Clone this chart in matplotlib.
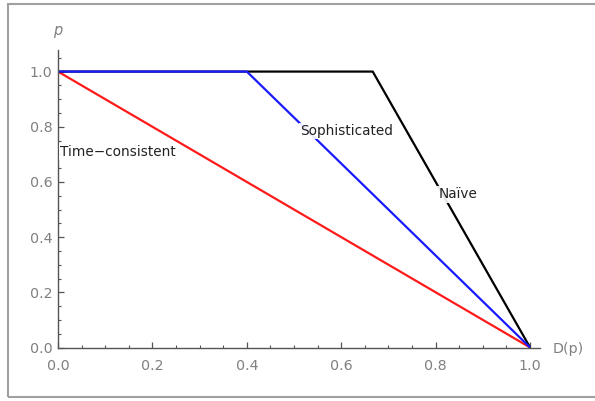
import matplotlib.pyplot as plt
from matplotlib.patches import Rectangle
from matplotlib.ticker import MultipleLocator

plt.rcParams['font.family'] = ['DejaVu Sans']

# curves: D(p) on x, p on y
tc_x = [0.0, 1.0]
tc_y = [1.0, 0.0]
soph_x = [0.0, 0.4, 1.0]
soph_y = [1.0, 1.0, 0.0]
naive_x = [0.0, 2 / 3, 1.0]
naive_y = [1.0, 1.0, 0.0]

labels = ["Time\u2212consistent", "Sophisticated", "Na\u00efve"]
label_pos = [(0.127, 0.71), (0.612, 0.785), (0.847, 0.555)]

fig = plt.figure(figsize=(5.95, 4.01), dpi=100)

# gray frame around the picture
fig.patches.append(Rectangle((8 / 595, 4 / 401), 600 / 595, 393 / 401,
                             transform=fig.transFigure, fill=False,
                             edgecolor='#a0a0a0', linewidth=1.5))

ax = fig.add_axes([58 / 595, 53.5 / 401, 482 / 595, 298 / 401])
ax.set_xlim(0, 1.021)
ax.set_ylim(0, 1.08)

ax.plot(tc_x, tc_y, color='#ff1a1a', lw=1.6, solid_capstyle='butt')
ax.plot(naive_x, naive_y, color='black', lw=1.6, solid_capstyle='butt')
ax.plot(soph_x, soph_y, color='#1a1aff', lw=1.6, solid_capstyle='butt')

for txt, (x, y) in zip(labels, label_pos):
    ax.text(x, y, txt, ha='center', va='center', fontsize=9.8, color='#222222',
            bbox=dict(facecolor='white', edgecolor='none', pad=1.0, alpha=0.9))

for side in ['top', 'right']:
    ax.spines[side].set_visible(False)
for side in ['left', 'bottom']:
    ax.spines[side].set_color('#555555')
    ax.spines[side].set_linewidth(1.0)

ax.xaxis.set_minor_locator(MultipleLocator(0.05))
ax.yaxis.set_minor_locator(MultipleLocator(0.05))
ax.set_xticks([0, 0.2, 0.4, 0.6, 0.8, 1.0])
ax.set_yticks([0, 0.2, 0.4, 0.6, 0.8, 1.0])
ax.xaxis.set_major_formatter(lambda v, p: f"{v:.1f}")
ax.yaxis.set_major_formatter(lambda v, p: f"{v:.1f}")
ax.tick_params(which='major', direction='in', length=4, width=0.9, color='#555555',
               labelsize=10.3, labelcolor='#808080')
ax.tick_params(axis='x', which='major', pad=8)
ax.tick_params(axis='y', which='major', pad=4)
ax.tick_params(which='minor', direction='in', length=2.5, width=0.8, color='#555555')

ax.text(0, 1.15, "p", ha='center', va='center',
        fontsize=10.5, style='italic', color='#808080', clip_on=False)
ax.text(1.048, -0.005, "D(p)", ha='left', va='center', fontsize=10.3,
        color='#808080', clip_on=False)

fig.savefig("out.png", dpi=100)
